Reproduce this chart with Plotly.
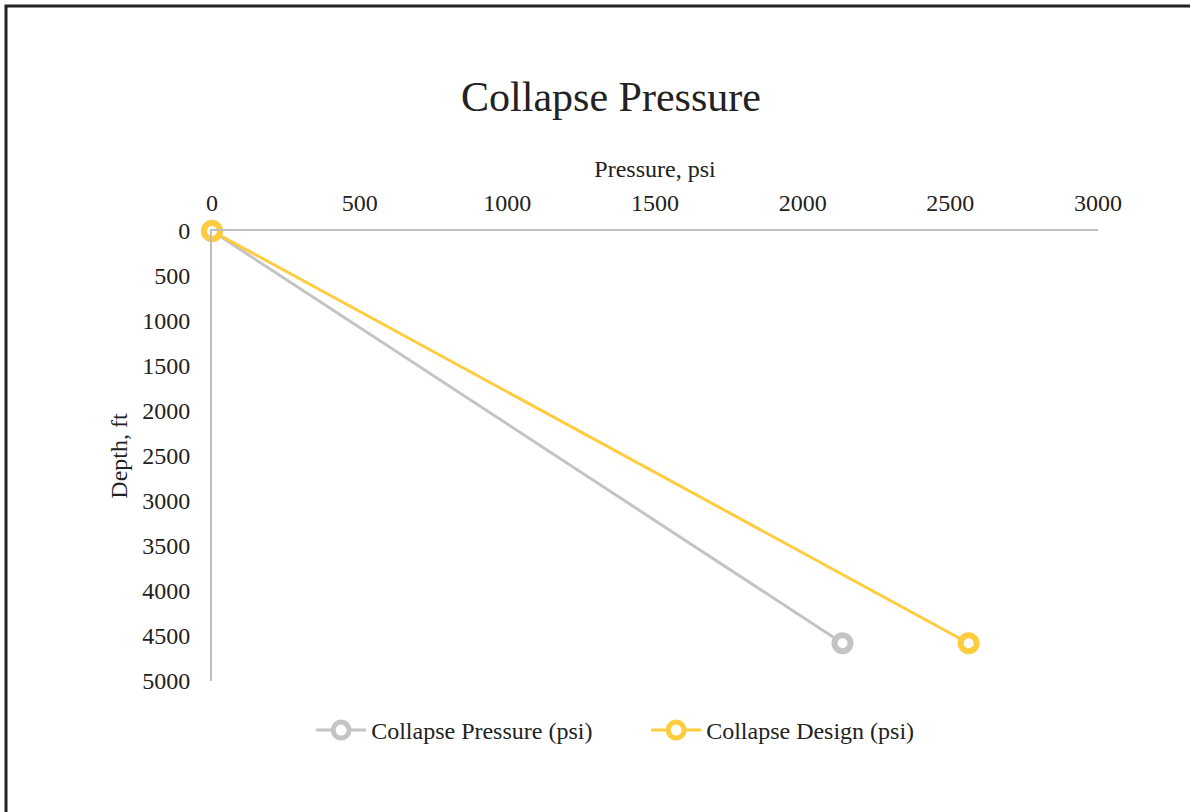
import plotly.graph_objects as go

# Casing collapse check: pressure vs depth
depth_ft = [0, 4580]
collapse_pressure_psi = [0, 2135]
collapse_design_psi = [0, 2562]

x_ticks = [0, 500, 1000, 1500, 2000, 2500, 3000]
y_ticks = [0, 500, 1000, 1500, 2000, 2500, 3000, 3500, 4000, 4500, 5000]

FONT = "Liberation Serif"
GRAY = "#C4C4C4"
GOLD = "#FFCC3E"
TXT = 24

fig = go.Figure()

fig.add_trace(go.Scatter(
    x=collapse_pressure_psi, y=depth_ft, mode="lines+markers",
    name="Collapse Pressure (psi)", cliponaxis=False,
    line=dict(color=GRAY, width=3),
    marker=dict(symbol="circle", size=16, color="white",
                line=dict(color=GRAY, width=6)),
))
fig.add_trace(go.Scatter(
    x=collapse_design_psi, y=depth_ft, mode="lines+markers",
    name="Collapse Design (psi)", cliponaxis=False,
    line=dict(color=GOLD, width=3),
    marker=dict(symbol="circle", size=16, color="white",
                line=dict(color=GOLD, width=6)),
))

fig.update_layout(
    width=1190, height=812,
    margin=dict(l=212, r=92, t=231, b=131),
    paper_bgcolor="white", plot_bgcolor="white",
    font=dict(family=FONT, size=TXT, color="#222222"),
    title=dict(text="Collapse Pressure", x=611 / 1190, xanchor="center",
               y=1 - 96 / 812, yanchor="middle",
               font=dict(family=FONT, size=42, color="#222222")),
    xaxis=dict(
        side="top", range=[0, 3000], tickvals=x_ticks,
        showgrid=False, zeroline=False,
        showline=True, linecolor="#BFBFBF", linewidth=2,
        ticks="", ticklabelstandoff=8,
        title=dict(text="Pressure, psi", font=dict(size=TXT), standoff=6),
    ),
    yaxis=dict(
        range=[5000, 0], tickvals=y_ticks,
        showgrid=False, zeroline=False,
        showline=True, linecolor="#BFBFBF", linewidth=2,
        ticks="", ticklabelstandoff=15,
        title=dict(text="Depth, ft", font=dict(size=TXT), standoff=8),
    ),
    legend=dict(orientation="h", x=0.49, xanchor="center",
                y=-0.11, yanchor="middle",
                font=dict(size=TXT), itemwidth=50,
                entrywidth=270, entrywidthmode="pixels"),
    showlegend=True,
    shapes=[dict(type="rect", xref="paper", yref="paper",
                 x0=(6 - 212) / 886, x1=(1205 - 212) / 886,
                 y0=(681 - 830) / 450, y1=(681 - 6) / 450,
                 line=dict(color="#222222", width=3),
                 fillcolor="rgba(0,0,0,0)", layer="below")],
)

fig.write_html("out.html")
